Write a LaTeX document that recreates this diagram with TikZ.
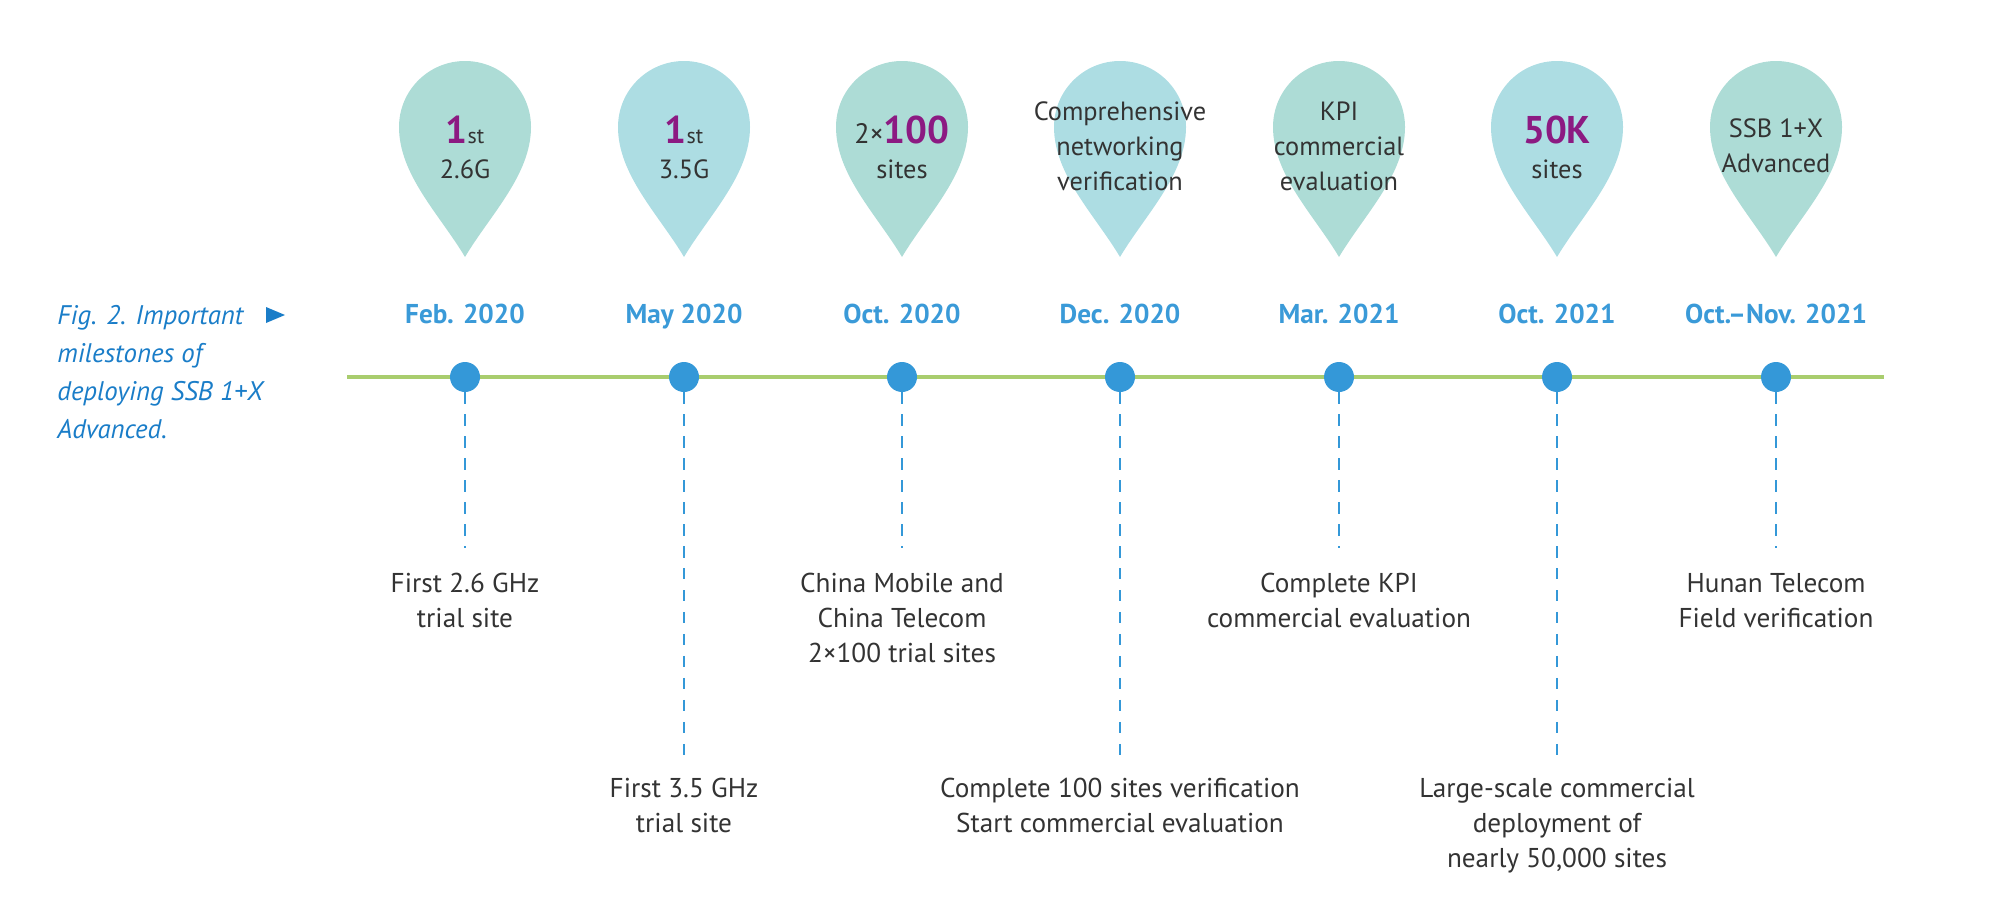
\documentclass[tikz,border=0pt]{standalone}
\usepackage{fontspec}
\setmainfont{PT Sans}
\usetikzlibrary{positioning}
\definecolor{cMint}{HTML}{ADDCD6}
\definecolor{cSky}{HTML}{ADDDE3}
\definecolor{cPlum}{HTML}{8C1A82}
\definecolor{cInk}{HTML}{333333}
\definecolor{cDate}{HTML}{3A9AD8}
\definecolor{cCap}{HTML}{1A7DC8}
\definecolor{cDot}{HTML}{3498D8}
\definecolor{cLine}{HTML}{A9CD6E}
\tikzset{
  dot/.style ={circle,fill=cDot,inner sep=0pt,minimum size=0.6cm},
  tline/.style={cLine,line width=2.2pt},
  stem/.style={cDot,line width=0.8pt,dash pattern=on 6.5pt off 6pt},
  date/.style={font=\fontsize{15.5}{19}\selectfont\bfseries,text=cDate,anchor=base,inner sep=0pt},
  desc/.style={font=\fontsize{15.5}{19.9}\selectfont,text=cInk,align=center,anchor=base,inner sep=0pt},
  ptxt/.style={font=\fontsize{15}{19.9}\selectfont,text=cInk,align=center,anchor=base,inner sep=0pt},
  capt/.style={font=\fontsize{15.3}{21.6}\selectfont\itshape,text=cCap,align=left,anchor=base west,inner sep=0pt},
}
\newcommand{\bnum}[1]{{\fontsize{22}{22}\selectfont\bfseries\color{cPlum}#1}}
\newcommand{\sst}{{\fontsize{12.5}{12.5}\selectfont st}}
\newcommand{\drop}[2]{\fill[#2] (#1,257) .. controls +(-25,-42) and +(0,48) .. ++(-66,-130)
  arc (180:360:66) .. controls +(0,48) and +(25,-42) .. ++(-66,130) -- cycle;}

\begin{document}
\begin{tikzpicture}[x=0.02cm,y=-0.02cm]
\useasboundingbox (0,0) rectangle (2000,906);
% caption (base = last line)
\node[capt] (cap) at (57,438) {Fig. 2. Important\\ milestones of\\ deploying SSB 1+X\\ Advanced.};
\fill[cCap] (266,307) -- (285,315) -- (266,323) -- cycle;
% time line
\coordinate (tl) at (347,377);
\coordinate (tr) at (1884,377);
\draw[tline] (tl) -- (tr);

% Feb. 2020
\drop{465}{cMint}
\node[ptxt] (t1) at (465,178) {\bnum{1}\sst\\ 2.6G};
\node[date] (m1) at (465,323) {Feb. 2020};
\node[dot] (d1) at (465,377) {};
\coordinate (e1) at (465,548);
\draw[stem] (d1) -- (e1);
\node[desc] (s1) at (465,627) {First 2.6 GHz\\ trial site};

% May 2020
\drop{684}{cSky}
\node[ptxt] (t2) at (684,178) {\bnum{1}\sst\\ 3.5G};
\node[date] (m2) at (684,323) {May 2020};
\node[dot] (d2) at (684,377) {};
\coordinate (e2) at (684,755);
\draw[stem] (d2) -- (e2);
\node[desc] (s2) at (684,832) {First 3.5 GHz\\ trial site};

% Oct. 2020
\drop{902}{cMint}
\node[ptxt] (t3) at (902,178) {{\fontsize{16}{16}\selectfont 2×}\bnum{100}\\ sites};
\node[date] (m3) at (902,323) {Oct. 2020};
\node[dot] (d3) at (902,377) {};
\coordinate (e3) at (902,548);
\draw[stem] (d3) -- (e3);
\node[desc] (s3) at (902,662) {China Mobile and\\ China Telecom\\ 2×100 trial sites};

% Dec. 2020
\drop{1120}{cSky}
\node[ptxt] (t4) at (1120,190) {Comprehensive\\ networking\\ verification};
\node[date] (m4) at (1120,323) {Dec. 2020};
\node[dot] (d4) at (1120,377) {};
\coordinate (e4) at (1120,755);
\draw[stem] (d4) -- (e4);
\node[desc] (s4) at (1120,832) {Complete 100 sites verification\\ Start commercial evaluation};

% Mar. 2021
\drop{1339}{cMint}
\node[ptxt] (t5) at (1339,190) {KPI\\ commercial\\ evaluation};
\node[date] (m5) at (1339,323) {Mar. 2021};
\node[dot] (d5) at (1339,377) {};
\coordinate (e5) at (1339,548);
\draw[stem] (d5) -- (e5);
\node[desc] (s5) at (1339,627) {Complete KPI\\ commercial evaluation};

% Oct. 2021
\drop{1557}{cSky}
\node[ptxt] (t6) at (1557,178) {\bnum{50K}\\ sites};
\node[date] (m6) at (1557,323) {Oct. 2021};
\node[dot] (d6) at (1557,377) {};
\coordinate (e6) at (1557,755);
\draw[stem] (d6) -- (e6);
\node[desc] (s6) at (1557,867) {Large-scale commercial\\ deployment of\\ nearly 50,000 sites};

% Oct.-Nov. 2021
\drop{1776}{cMint}
\node[ptxt] (t7) at (1776,172) {SSB 1+X\\ Advanced};
\node[date] (m7) at (1776,323) {Oct.–Nov. 2021};
\node[dot] (d7) at (1776,377) {};
\coordinate (e7) at (1776,548);
\draw[stem] (d7) -- (e7);
\node[desc] (s7) at (1776,627) {Hunan Telecom\\ Field verification};
\end{tikzpicture}
\end{document}
